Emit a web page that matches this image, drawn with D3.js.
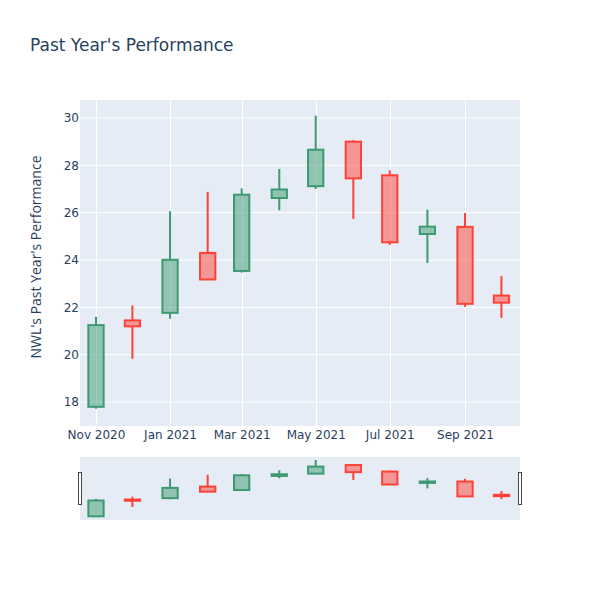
<!DOCTYPE html>
<html>
<head>
<meta charset="utf-8">
<script src="https://cdn.jsdelivr.net/npm/d3@7"></script>
<style>
  html, body { margin: 0; padding: 0; background: #fff; }
  svg { display: block; }
</style>
</head>
<body>
<svg id="chart" width="600" height="600"></svg>
<script>
// ---- data ----
const dates = ["2020-11-01","2020-12-01","2021-01-01","2021-02-01","2021-03-01","2021-04-01",
               "2021-05-01","2021-06-01","2021-07-01","2021-08-01","2021-09-01","2021-10-01"];
const open  = [17.80, 21.45, 21.77, 24.30, 23.54, 26.62, 27.12, 29.00, 27.58, 25.10, 25.40, 22.50];
const high  = [21.60, 22.08, 26.06, 26.88, 27.03, 27.85, 30.10, 29.06, 27.79, 26.13, 25.99, 23.32];
const low   = [17.72, 19.83, 21.52, 23.15, 23.47, 26.10, 27.00, 25.74, 24.64, 23.88, 22.02, 21.56];
const close = [21.25, 21.20, 24.01, 23.18, 26.76, 26.98, 28.66, 27.45, 24.75, 25.41, 22.15, 22.20];
const xTicks = ["2020-11-01","2021-01-01","2021-03-01","2021-05-01","2021-07-01","2021-09-01"];
const yTicks = [18, 20, 22, 24, 26, 28, 30];
const titleText = "Past Year's Performance";
const yTitleText = "NWL's Past Year's Performance";

const parse = d3.utcParse("%Y-%m-%d");
const data = dates.map((d, i) => ({ date: parse(d), open: open[i], high: high[i], low: low[i], close: close[i] }));

const incColor = "#3D9970", decColor = "#FF4136";
const textColor = "#2a3f5f";
const bg = "#E5ECF6";
const tickFont = '"DejaVu Sans", verdana, sans-serif';
const titleFont = '"DejaVu Sans", verdana, sans-serif';
const axisTitleFont = '"Open Sans", verdana, arial, sans-serif';

const plot = { left: 80, right: 520, top: 100, bottom: 426 };
const slider = { top: 457, bottom: 520 };

const x = d3.scaleUtc()
  .domain([new Date(Date.UTC(2020, 9, 18, 19, 40)), new Date(Date.UTC(2021, 9, 16, 7, 0))])
  .range([plot.left, plot.right]);
const yDomain = [16.99, 30.76];
const y = d3.scaleLinear().domain(yDomain).range([plot.bottom, plot.top]);
const ys = d3.scaleLinear().domain(yDomain).range([slider.bottom, slider.top]);

const svg = d3.select("#chart");

// background
svg.append("rect").attr("x", plot.left).attr("y", plot.top)
  .attr("width", plot.right - plot.left).attr("height", plot.bottom - plot.top).attr("fill", bg);

// grid
const gGrid = svg.append("g");
gGrid.selectAll("line.yg").data(yTicks).join("line")
  .attr("x1", plot.left).attr("x2", plot.right)
  .attr("y1", d => y(d)).attr("y2", d => y(d))
  .attr("stroke", "#fff").attr("stroke-width", 1);
gGrid.selectAll("line.xg").data(xTicks.map(parse)).join("line")
  .attr("y1", plot.top).attr("y2", plot.bottom)
  .attr("x1", d => Math.round(x(d)) + 0.5).attr("x2", d => Math.round(x(d)) + 0.5)
  .attr("stroke", "#fff").attr("stroke-width", 1);

// half box width: based on min spacing between candles
let minSp = Infinity;
for (let i = 1; i < data.length; i++) minSp = Math.min(minSp, x(data[i].date) - x(data[i - 1].date));
const hw = minSp * 0.225;

function drawCandles(g, yScale) {
  const c = g.selectAll("g.c").data(data).join("g");
  c.each(function(d) {
    const s = d3.select(this);
    const col = d.close >= d.open ? incColor : decColor;
    const cx = x(d.date);
    const top = yScale(Math.max(d.open, d.close));
    const bot = yScale(Math.min(d.open, d.close));
    s.append("line").attr("x1", cx).attr("x2", cx).attr("y1", yScale(d.high)).attr("y2", top)
      .attr("stroke", col).attr("stroke-width", 2);
    s.append("line").attr("x1", cx).attr("x2", cx).attr("y1", bot).attr("y2", yScale(d.low))
      .attr("stroke", col).attr("stroke-width", 2);
    s.append("rect").attr("x", cx - hw).attr("width", 2 * hw)
      .attr("y", top).attr("height", Math.max(0.5, bot - top))
      .attr("fill", col).attr("fill-opacity", 0.5)
      .attr("stroke", col).attr("stroke-width", 2);
  });
}

const gMain = svg.append("g");
drawCandles(gMain, y);

// y axis labels
const yAxis = d3.axisLeft(y).tickValues(yTicks).tickSize(0).tickPadding(0);
const gy = svg.append("g").attr("transform", `translate(${plot.left - 1},0)`).call(yAxis);
gy.select(".domain").remove();
gy.selectAll("text").attr("fill", textColor).attr("font-size", 12)
  .attr("font-family", tickFont);

// x axis labels
const xAxis = d3.axisBottom(x).tickValues(xTicks.map(parse)).tickFormat(d3.utcFormat("%b %Y"))
  .tickSize(0).tickPadding(0);
const gx = svg.append("g").attr("transform", `translate(0,${plot.bottom})`).call(xAxis);
gx.select(".domain").remove();
gx.selectAll("text").attr("fill", textColor).attr("font-size", 12).attr("dy", null).attr("y", 12.5)
  .attr("font-family", tickFont);

// range slider
svg.append("rect").attr("x", plot.left).attr("y", slider.top)
  .attr("width", plot.right - plot.left).attr("height", slider.bottom - slider.top).attr("fill", bg);
const gSlider = svg.append("g");
drawCandles(gSlider, ys);
const hMid = (slider.top + slider.bottom) / 2, hH = 32;
[plot.left, plot.right].forEach(px => {
  svg.append("rect").attr("x", px - 2).attr("y", hMid - hH / 2).attr("width", 3.5).attr("height", hH)
    .attr("fill", "#fff").attr("stroke", "#444").attr("stroke-width", 1).attr("shape-rendering", "crispEdges");
});

// titles
svg.append("text").attr("x", 30).attr("y", 51).attr("fill", textColor).attr("font-size", 17)
  .attr("font-family", titleFont).text(titleText);
svg.append("text").attr("transform", `translate(40.5,257) rotate(-90)`).attr("text-anchor", "middle")
  .attr("fill", textColor).attr("font-size", 14).attr("font-family", axisTitleFont).text(yTitleText);
</script>
</body>
</html>
